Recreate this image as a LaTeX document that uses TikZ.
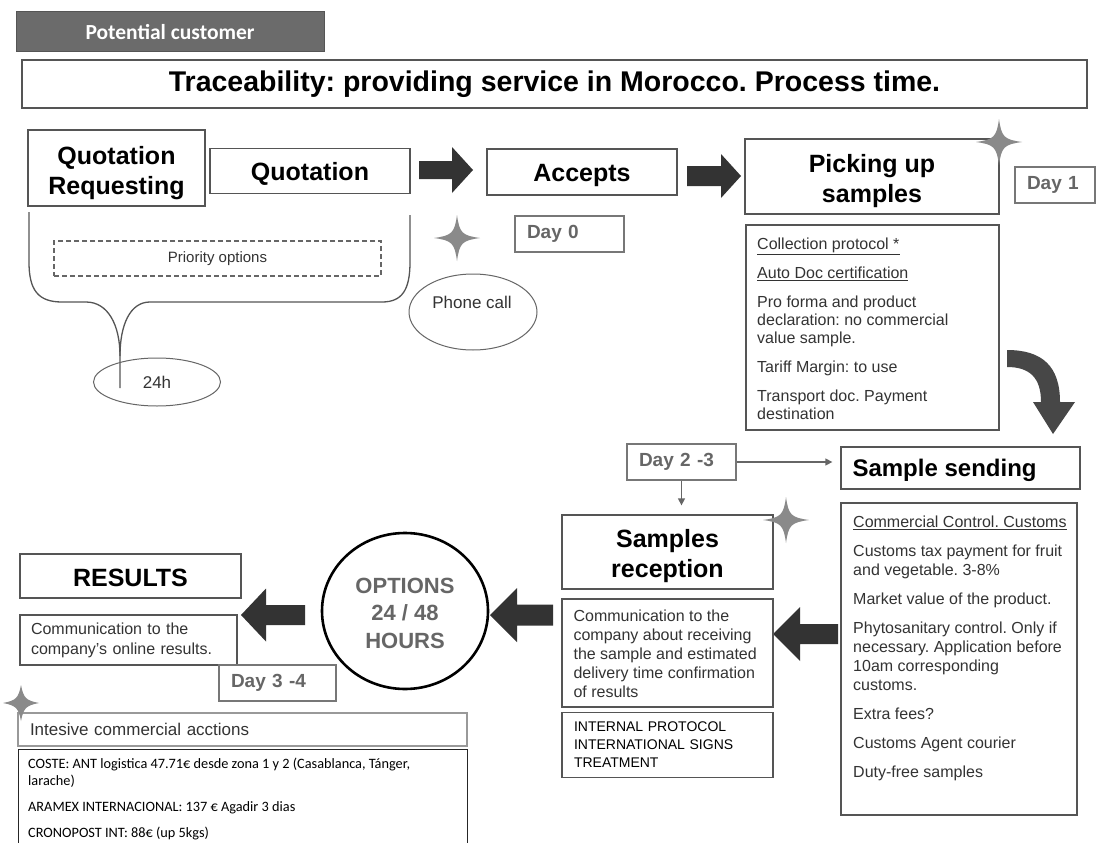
\documentclass[tikz,border=0pt]{standalone}
\usepackage{fontspec}
\setmainfont{Liberation Sans}
\newfontfamily\calib{Carlito}
\usetikzlibrary{shapes.geometric,arrows.meta,calc}
\frenchspacing
\definecolor{bordc}{HTML}{555555}
\definecolor{dayc}{HTML}{666666}
\definecolor{txtc}{HTML}{333333}
\definecolor{starc}{HTML}{8A8A8A}
\definecolor{arrc}{HTML}{333333}
\definecolor{arrcb}{HTML}{474747}
\definecolor{pcfill}{HTML}{6B6B6B}
\newcommand\sparkle[3]{\fill[starc] (#1,#2-#3) .. controls (#1+2.5,#2-5) and (#1+5,#2-2.5) .. (#1+#3,#2) .. controls (#1+5,#2+2.5) and (#1+2.5,#2+5) .. (#1,#2+#3) .. controls (#1-2.5,#2+5) and (#1-5,#2+2.5) .. (#1-#3,#2) .. controls (#1-5,#2-2.5) and (#1-2.5,#2-5) .. cycle;}
\newcommand\blockarr[6]{\fill[arrc] (#1,#4-#5) -- (#2,#4-#5) -- (#2,#4-#6) -- (#3,#4) -- (#2,#4+#6) -- (#2,#4+#5) -- (#1,#4+#5) -- cycle;}
\tikzset{
  box/.style={draw=bordc, line width=1.3pt, inner sep=0pt, rectangle},
  htxt/.style={font=\bfseries\fontsize{25}{30}\selectfont, align=center, inner sep=0pt},
  daybox/.style={draw=bordc!80, line width=1.3pt, rectangle, font=\bfseries\fontsize{19}{22}\selectfont, text=dayc, align=left, inner xsep=12pt, inner ysep=0pt, minimum height=36pt},
  body/.style={font=\fontsize{16}{19}\selectfont, text=txtc, align=left, inner sep=0pt},
  thinarr/.style={draw=dayc, line width=1.3pt, -{Triangle[length=7pt,width=7pt]}},
}
\begin{document}
\begin{tikzpicture}[x=1pt,y=-1pt]
\useasboundingbox (0,0) rectangle (1103,843);
\fill[white] (0,0) rectangle (1103,843);
\begin{scope}
\clip (0,0) rectangle (1103,843);
% header
\node[draw=bordc, fill=pcfill, line width=1pt, minimum width=308pt, minimum height=40pt, inner sep=0pt, text=white, font=\calib\bfseries\fontsize{21.5}{24}\selectfont] (pc) at (170,32) {Potential customer};
\node[box, minimum width=1065pt, minimum height=48pt, font=\bfseries\fontsize{28.5}{32}\selectfont] (title) at (554.5,84) {Traceability: providing service in Morocco. Process time.};
% top row
\node[box, minimum width=177pt, minimum height=76pt] (qr) at (116.5,168) {};
\node[htxt] (qrt) at ($(qr)+(0,5)$) {Quotation\\Requesting};
\node[box, minimum width=200pt, minimum height=45pt] (quot) at (310,171) {};
\node[htxt] (quott) at ($(quot)+(0,3)$) {Quotation};
\node[box, minimum width=190pt, minimum height=46pt] (acc) at (582,172) {};
\node[htxt] (acct) at ($(acc)+(0,3)$) {Accepts};
\node[box, minimum width=254pt, minimum height=75pt] (pick) at (872,176.5) {};
\node[htxt] (pickt) at ($(pick)+(0,5)$) {Picking up\\samples};
\node[daybox, text width=56pt] (day1) at (1055,185) {Day 1};
\node[daybox, text width=85pt] (day0) at (569.5,234) {Day 0};
% brace and priority
\draw[draw=bordc, line width=1.3pt] (29,212) -- (29,262) .. controls (29,290) and (38,302) .. (62,302) -- (86,302) .. controls (108,302) and (120,325) .. (120,356) -- (120,388);
\draw[draw=bordc, line width=1.3pt] (120,356) .. controls (120,325) and (130,302) .. (150,302) -- (382,302) .. controls (402,302) and (410,290) .. (410,262) -- (410,215);
\node[draw=dayc, dash pattern=on 5pt off 3pt, line width=1.3pt, minimum width=327pt, minimum height=35pt, font=\fontsize{15}{18}\selectfont, text=txtc] (prio) at (217.5,258.5) {Priority options};
\node[ellipse, draw=dayc, line width=1pt, minimum width=127pt, minimum height=48pt, inner sep=0pt, font=\fontsize{17}{20}\selectfont, text=txtc] (h24) at (157,382) {24h};
\node[ellipse, draw=dayc, line width=1pt, minimum width=128pt, minimum height=76pt, inner sep=0pt] (phone) at (473,312) {};
\node[font=\fontsize{17}{20}\selectfont, text=txtc] (phonet) at (472,302) {Phone call};
% collection box
\node[box, minimum width=253pt, minimum height=205pt] (coll) at (872.5,327.5) {};
\node[body, anchor=north west, font=\fontsize{16}{18}\selectfont] (collt) at (757,237.5) {\underline{Collection protocol *}\\[11pt] \underline{Auto Doc certification}\\[11pt] Pro forma and product\\ declaration: no commercial\\ value sample.\\[11pt] Tariff Margin: to use\\[11pt] Transport doc. Payment\\ destination};
% block arrows
\blockarr{419}{452}{473}{170}{9}{23}
\blockarr{687}{721}{741}{176}{10}{22}
\blockarr{838}{800}{773}{634}{10}{27}
\blockarr{553}{517}{490}{615}{10.5}{27}
\blockarr{305}{266}{241}{615}{10}{26.5}
\fill[arrcb] (1007,350) .. controls (1042,350) and (1060,366) .. (1060,402) -- (1075,402) -- (1053,434) -- (1033,402) -- (1041,402) .. controls (1041,378) and (1030,367) .. (1007,367) -- cycle;
% middle
\node[daybox, text width=85pt] (day23) at (681.5,462) {Day 2 -3};
\node[box, minimum width=239pt, minimum height=42pt] (ssend) at (960.5,468) {};
\node[htxt, anchor=west, font=\bfseries\fontsize{24}{28}\selectfont] (ssendt) at ($(ssend.west)+(12,2)$) {Sample sending};
\node[box, minimum width=211pt, minimum height=74pt] (srec) at (667.5,552) {};
\node[htxt] (srect) at ($(srec)+(0,4)$) {Samples\\reception};
\draw[thinarr, shorten >=8pt] (day23.east) -- (day23.east -| ssend.west);
\draw[thinarr, shorten >=9pt] (day23.south) -- (day23.south |- srec.north);
\node[box, body, minimum width=211pt, minimum height=108pt, text width=187pt, inner xsep=12pt] (comm) at (667.5,653) {};
\node[body, anchor=north west] (commt) at ($(comm.north west)+(12,11)$) {Communication to the\\ company about receiving\\ the sample and estimated\\ delivery time confirmation\\ of results};
\node[box, body, minimum width=211pt, minimum height=65pt, text width=187pt, inner xsep=12pt, font=\fontsize{14}{18}\selectfont, text=black] (intern) at (667.5,745) {INTERNAL PROTOCOL\\ INTERNATIONAL SIGNS\\ TREATMENT};
\node[box, minimum width=236pt, minimum height=312pt] (cc) at (959,659) {};
\node[body, anchor=north west] (cct) at (853,515.5) {\underline{Commercial Control. Customs}\\[10pt] Customs tax payment for fruit\\ and vegetable. 3-8\%\\[10pt] Market value of the product.\\[10pt] Phytosanitary control. Only if\\ necessary. Application before\\ 10am corresponding\\ customs.\\[10pt] Extra fees?\\[10pt] Customs Agent courier\\[10pt] Duty-free samples};
% circle
\node[ellipse, draw=black, line width=2.6pt, minimum width=166pt, minimum height=156pt, inner sep=0pt] (opt) at (405,611) {};
\node[align=center, text=dayc, inner sep=0pt, font=\bfseries\fontsize{22}{27.5}\selectfont] (optt) at ($(opt)+(0,2)$) {OPTIONS\\24 / 48\\HOURS};
% results
\node[box, minimum width=221pt, minimum height=44pt] (res) at (130.5,576) {};
\node[htxt] (rest) at ($(res)+(0,2)$) {RESULTS};
\node[box, body, minimum width=217pt, minimum height=50pt, text width=195pt, inner xsep=11pt, font=\fontsize{16}{20}\selectfont] (online) at (128.5,640) {Communication to the\\ company's online results.};
\node[daybox, text width=93pt] (day34) at (277.5,683) {Day 3 -4};
\node[draw=bordc!60, line width=1.3pt, minimum width=449pt, minimum height=33pt, text width=425pt, inner xsep=12pt, inner ysep=0pt, align=left, font=\fontsize{17}{20}\selectfont, text=txtc] (inte) at (242.5,729.5) {Intesive commercial acctions};
\node[draw=black!85, line width=1.3pt, minimum width=449pt, minimum height=110pt, inner sep=0pt, anchor=north west] (coste) at (18,749) {};
\node[anchor=north west, inner sep=0pt, align=left, font=\calib\fontsize{14.3}{17}\selectfont, text=black] (costet) at (28,758) {COSTE: ANT logistica 47.71€ desde zona 1 y 2 (Casablanca, Tánger,\\ larache)\\[9pt] ARAMEX INTERNACIONAL: 137 € Agadir 3 dias\\[9pt] CRONOPOST INT: 88€ (up 5kgs)};
% stars
\sparkle{457}{238}{23}
\sparkle{999}{142}{23}
\sparkle{786}{520}{23}
\sparkle{21}{703}{18}
\end{scope}
\end{tikzpicture}
\end{document}
